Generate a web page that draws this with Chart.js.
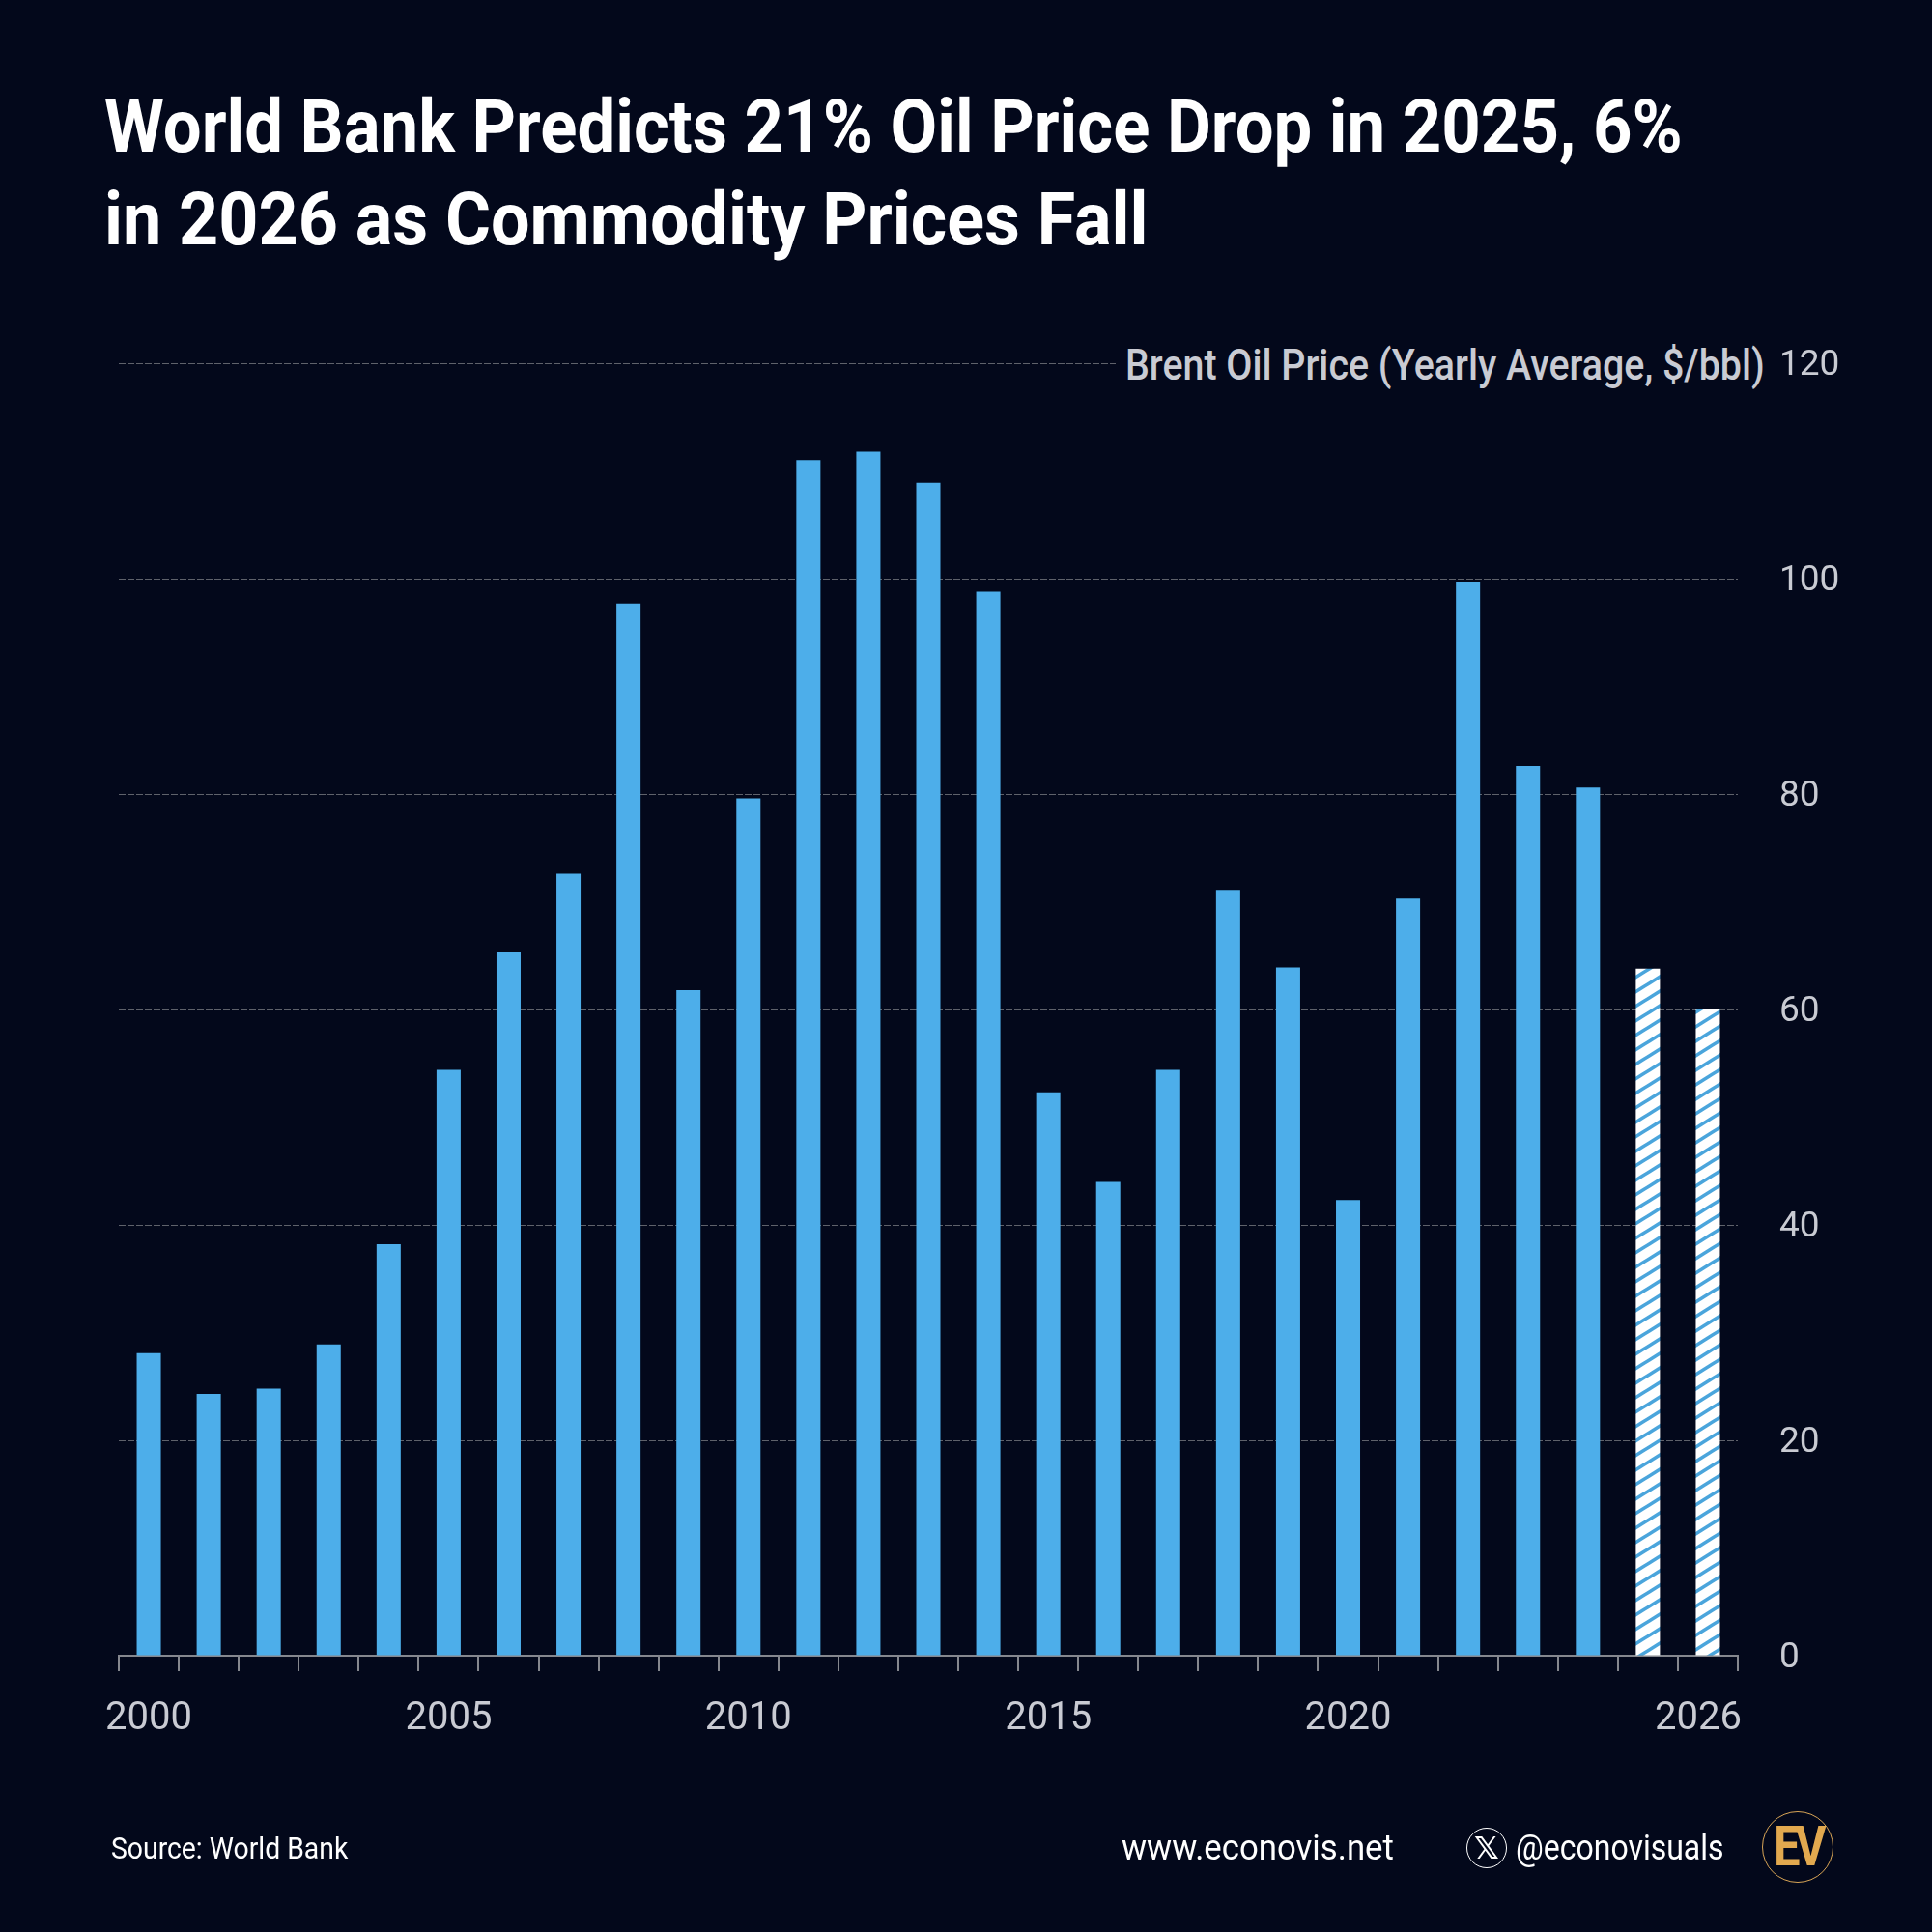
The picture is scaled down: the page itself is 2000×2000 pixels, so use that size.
<!DOCTYPE html>
<html>
<head>
<meta charset="utf-8">
<script src="https://cdn.jsdelivr.net/npm/chart.js@4"></script>
<style>
  html, body { margin: 0; background: #03081b; }
  #wrap { position: relative; width: 2000px; height: 2000px; overflow: hidden; font-family: Roboto, sans-serif; }
  canvas { position: absolute; left: 0; top: 0; }
  .t { position: absolute; white-space: nowrap; transform-origin: 0 50%; }
  .title { left: 108px; color: #fff; font-weight: 700; font-size: 76px; line-height: 96px; height: 96px; }
  #unit { left: 1155px; top: 350px; height: 56px; line-height: 56px; width: 680px; background: #03081b; }
  #unit span { position: absolute; left: 10px; white-space: nowrap; color: #c9cbd3; font-size: 45px; font-weight: 500; transform-origin: 0 50%; transform: scaleX(.875); }
  #xicon { position: absolute; left: 1518px; top: 1892px; width: 40px; height: 40px; border: 1.5px solid #fff; border-radius: 50%; color: #fff; font: 700 32px/40px "DejaVu Sans"; text-align: center; }
  #logo { position: absolute; left: 1824px; top: 1875px; width: 72px; height: 72px; border: 1.5px solid #d9a556; border-radius: 50%; color: #e2a94f; font: 700 57px/72px Roboto; text-align: center; letter-spacing: -6px; }
  #logo span { display: inline-block; transform: scaleX(.86); }
</style>
</head>
<body>
<div id="wrap">
  <canvas id="chart" width="2000" height="2000"></canvas>
  <div class="t title" style="top:83px;transform:scaleX(.93)">World Bank Predicts 21% Oil Price Drop in 2025, 6%</div>
  <div class="t title" style="top:179px;transform:scaleX(.945)">in 2026 as Commodity Prices Fall</div>
  <div class="t" id="unit"><span>Brent Oil Price (Yearly Average, $/bbl)</span></div>
  <div class="t" style="left:115px;top:1893px;color:#fff;font-size:32px;line-height:40px;transform:scaleX(.886)">Source: World Bank</div>
  <div class="t" style="left:1161px;top:1893px;color:#fff;font-size:36px;line-height:40px;transform:scaleX(.965)">www.econovis.net</div>
  <div id="xicon">𝕏</div>
  <div class="t" style="left:1569px;top:1893px;color:#fff;font-size:36px;line-height:40px;transform:scaleX(.889)">@econovisuals</div>
  <div id="logo"><span>EV</span></div>
</div>
<script>
const years = ['2000','2001','2002','2003','2004','2005','2006','2007','2008','2009','2010','2011','2012','2013','2014','2015','2016','2017','2018','2019','2020','2021','2022','2023','2024','2025','2026'];
const prices = [28.1,24.3,24.8,28.9,38.2,54.4,65.3,72.6,97.7,61.8,79.6,111.0,111.8,108.9,98.8,52.3,44.0,54.4,71.1,63.9,42.3,70.3,99.7,82.6,80.6,63.8,60.0];
const forecastYears = ['2025','2026'];
const labelledYears = ['2000','2005','2010','2015','2020','2026'];

const BAR = '#4daeea';
const TEXT = '#c9cbd3';

// white bars with blue diagonal stripes for the forecast years
function hatch() {
  const c = document.createElement('canvas');
  c.width = 24;
  c.height = 15;
  const g = c.getContext('2d');
  g.fillStyle = '#fff';
  g.fillRect(0, 0, 24, 15);
  g.strokeStyle = '#4aa5dc';
  g.lineWidth = 3.6;
  for (const dy of [-15, 0, 15]) {
    g.beginPath();
    g.moveTo(-24, 30 + dy);
    g.lineTo(48, dy - 15);
    g.stroke();
  }
  return g.createPattern(c, 'repeat');
}
const stripes = hatch();

// the last year label sits a little left of its bar
const nudgeLast = {
  id: 'nudgeLast',
  beforeDraw(chart) {
    for (const item of chart.scales.x.getLabelItems()) {
      if (item.label === '2026' && !item.moved) {
        item.options.translation[0] -= 10;
        item.moved = true;
      }
    }
  }
};

new Chart(document.getElementById('chart').getContext('2d'), {
  type: 'bar',
  data: {
    labels: years,
    datasets: [{
      data: prices,
      backgroundColor: years.map((y) => (forecastYears.includes(y) ? stripes : BAR)),
      barPercentage: 0.403,
      categoryPercentage: 1,
    }],
  },
  plugins: [nudgeLast],
  options: {
    responsive: false,
    animation: false,
    layout: { padding: { left: 123, right: 1, top: 376, bottom: 206 } },
    plugins: { legend: { display: false }, title: { display: false }, tooltip: { enabled: false } },
    scales: {
      x: {
        offset: true,
        afterFit: (s) => { s.height = 80; },
        border: { color: '#85878e', width: 2 },
        grid: { offset: true, drawOnChartArea: false, tickLength: 16, color: '#85878e', lineWidth: 2 },
        ticks: {
          autoSkip: false,
          maxRotation: 0,
          padding: 26,
          color: TEXT,
          font: { family: 'Roboto', size: 40 },
          callback(v) {
            const y = this.getLabelForValue(v);
            return labelledYears.includes(y) ? y : '';
          },
        },
      },
      y: {
        position: 'right',
        min: 0,
        max: 120,
        afterFit: (s) => { s.width = 200; },
        border: { display: false, dash: [7, 2] },
        grid: { color: '#5f626b', lineWidth: 1, drawTicks: false, tickLength: 0 },
        ticks: {
          stepSize: 20,
          padding: 43,
          labelOffset: 3,
          color: TEXT,
          font: { family: 'Roboto', size: 37 },
        },
      },
    },
  },
});
</script>
</body>
</html>
